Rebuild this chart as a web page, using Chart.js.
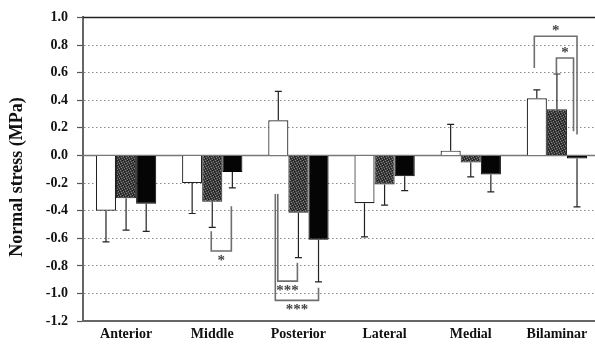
<!DOCTYPE html>
<html>
<head>
<meta charset="utf-8">
<script src="https://cdn.jsdelivr.net/npm/chart.js@4.4.0/dist/chart.umd.min.js"></script>
<style>
  html, body { margin: 0; padding: 0; background: #fff; overflow: hidden; }
  #wrap { position: relative; width: 610px; height: 345px; }
</style>
</head>
<body>
<div id="wrap"><canvas id="myChart" width="610" height="345"></canvas></div>
<script>
'use strict';

// data (MPa)
let regions = ['Anterior', 'Middle', 'Posterior', 'Lateral', 'Medial', 'Bilaminar'];
let whiteMeans = [-0.40, -0.20, 0.255, -0.345, 0.035, 0.415];
let whiteSD = [0.225, 0.22, 0.21, 0.245, 0.19, 0.06];
let hatchMeans = [-0.31, -0.335, -0.415, -0.21, -0.05, 0.335];
let hatchSD = [0.23, 0.185, 0.325, 0.15, 0.105, 0.255];
let blackMeans = [-0.35, -0.12, -0.61, -0.15, -0.138, -0.022];
let blackSD = [0.20, 0.115, 0.305, 0.105, 0.125, 0.35];
let yTicks = [-1.2, -1.0, -0.8, -0.6, -0.4, -0.2, 0.0, 0.2, 0.4, 0.6, 0.8, 1.0];
let yTickLabels = ['-1.2', '-1.0', '-0.8', '-0.6', '-0.4', '-0.2', '0.0', '0.2', '0.4', '0.6', '0.8', '1.0'];

// significance brackets: region, from bar, to bar, start / turn / end level (MPa), mark
let brackets = [
  { region: 1, from: 1, to: 2, start: -0.548, turn: -0.692, end: -0.367, mark: '*' },
  { region: 2, from: 0, to: 1, start: -0.278, turn: -0.910, end: -0.777, mark: '***' },
  { region: 2, from: 0, to: 2, start: -0.278, turn: -1.049, end: -0.958, mark: '***' },
  { region: 5, from: 0, to: 2, start: 0.634, turn: 0.863, end: 0.152, mark: '*' },
  { region: 5, from: 1, to: 2, start: 0.586, turn: 0.706, end: 0.176, mark: '*' }
];
// small pixel nudges so nested brackets don't overlap
let bracketNudge = [[-1, -1], [-0.5, -1], [-3, 0], [-2.5, 0], [-0.5, -3.5]];

let serif = '"Liberation Serif", "DejaVu Serif", serif';

function makeStipple() {
  let c = document.createElement('canvas');
  c.width = 5;
  c.height = 5;
  let g = c.getContext('2d');
  g.fillStyle = '#3c3c3c';
  g.fillRect(0, 0, 5, 5);
  g.fillStyle = '#808080';
  [[0, 0], [3, 1], [1, 2], [4, 3], [2, 4]].forEach(p => g.fillRect(p[0], p[1], 1, 1));
  g.fillStyle = '#161616';
  [[2, 0], [0, 3], [4, 1], [3, 4]].forEach(p => g.fillRect(p[0], p[1], 1, 1));
  return g.createPattern(c, 'repeat');
}

let allSD = [whiteSD, hatchSD, blackSD];

let framePlugin = {
  id: 'frame',
  beforeDatasetsDraw(chart) {
    let ctx = chart.ctx;
    let area = chart.chartArea;
    let y = chart.scales.y;
    ctx.save();
    // zero line
    ctx.strokeStyle = '#777';
    ctx.lineWidth = 1.5;
    ctx.beginPath();
    ctx.moveTo(area.left, y.getPixelForValue(0));
    ctx.lineTo(area.right, y.getPixelForValue(0));
    ctx.stroke();
    // top line
    ctx.strokeStyle = '#222';
    ctx.lineWidth = 1.5;
    ctx.beginPath();
    ctx.moveTo(area.left, y.getPixelForValue(1.0));
    ctx.lineTo(area.right, y.getPixelForValue(1.0));
    ctx.stroke();
    ctx.restore();
  },
  afterDatasetsDraw(chart) {
    let ctx = chart.ctx;
    let y = chart.scales.y;
    ctx.save();
    // error bars
    ctx.strokeStyle = '#222';
    ctx.lineWidth = 1.2;
    chart.data.datasets.forEach((ds, di) => {
      let meta = chart.getDatasetMeta(di);
      meta.data.forEach((bar, i) => {
        let v = ds.data[i];
        let end = v >= 0 ? v + allSD[di][i] : v - allSD[di][i];
        let y0 = y.getPixelForValue(v);
        let y1 = y.getPixelForValue(end);
        ctx.beginPath();
        ctx.moveTo(bar.x, y0);
        ctx.lineTo(bar.x, y1);
        ctx.moveTo(bar.x - 3.5, y1);
        ctx.lineTo(bar.x + 3.5, y1);
        ctx.stroke();
      });
    });
    // significance brackets
    ctx.strokeStyle = '#6f6f6f';
    ctx.fillStyle = '#444';
    ctx.lineWidth = 1.6;
    ctx.font = 'bold 15px ' + serif;
    ctx.textAlign = 'center';
    ctx.textBaseline = 'middle';
    brackets.forEach((b, k) => {
      let xa = chart.getDatasetMeta(b.from).data[b.region].x + bracketNudge[k][0];
      let xb = chart.getDatasetMeta(b.to).data[b.region].x + bracketNudge[k][1];
      let ys = y.getPixelForValue(b.start);
      let yt = y.getPixelForValue(b.turn);
      let ye = y.getPixelForValue(b.end);
      ctx.beginPath();
      ctx.moveTo(xa, ys);
      ctx.lineTo(xa, yt);
      ctx.lineTo(xb, yt);
      ctx.lineTo(xb, ye);
      ctx.stroke();
      let below = b.turn < b.start;
      ctx.fillText(b.mark, (xa + xb) / 2, below ? yt + 10 : yt - 5);
    });
    ctx.restore();
  },
  afterDraw(chart) {
    let ctx = chart.ctx;
    ctx.save();
    ctx.translate(17, 177);
    ctx.rotate(-Math.PI / 2);
    ctx.font = 'bold 18px ' + serif;
    ctx.fillStyle = '#111';
    ctx.textAlign = 'center';
    ctx.textBaseline = 'middle';
    ctx.fillText('Normal stress (MPa)', 0, 0);
    ctx.restore();
  }
};

let ctx = document.getElementById('myChart').getContext('2d');
let chartObject = {
  type: 'bar',
  data: {
    labels: regions,
    datasets: [{
      data: whiteMeans,
      backgroundColor: '#ffffff',
      borderColor: '#222',
      borderWidth: 1.2
    },
    {
      data: hatchMeans,
      backgroundColor: makeStipple(),
      borderColor: '#222',
      borderWidth: 1
    },
    {
      data: blackMeans,
      backgroundColor: '#050505',
      borderColor: '#000',
      borderWidth: 1
    }]
  },
  options: {
    responsive: false,
    animation: false,
    categoryPercentage: 0.7,
    barPercentage: 1.0,
    layout: { padding: { top: 8, right: 10, bottom: -3, left: 0 } },
    plugins: {
      legend: { display: false },
      tooltip: { enabled: false }
    },
    scales: {
      x: {
        grid: { display: false, drawTicks: false },
        border: { display: true, color: '#666', width: 2 },
        ticks: {
          color: '#111',
          padding: 5,
          font: { family: serif, size: 14, weight: 'bold' }
        }
      },
      y: {
        min: -1.2,
        max: 1.0,
        afterBuildTicks: (scale) => {
          scale.ticks = yTicks.map(v => ({ value: v }));
        },
        afterFit: (scale) => {
          scale.width = 83;
        },
        grid: {
          color: (c) => {
            let v = c.tick ? c.tick.value : 0;
            if (Math.abs(v) < 1e-6 || v > 0.99 || v < -1.19) {
              return 'rgba(0,0,0,0)';
            }
            return '#8a8a8a';
          },
          lineWidth: 1,
          tickColor: '#555',
          tickLength: 6,
          tickWidth: 1.2
        },
        border: { display: true, color: '#666', width: 2, dash: [1.5, 2.5] },
        ticks: {
          color: '#111',
          padding: 9,
          font: { family: serif, size: 14, weight: 'bold' },
          callback: (value, index) => yTickLabels[index]
        }
      }
    }
  },
  plugins: [framePlugin]
};
new Chart(ctx, chartObject); // eslint-disable-line
</script>
</body>
</html>
